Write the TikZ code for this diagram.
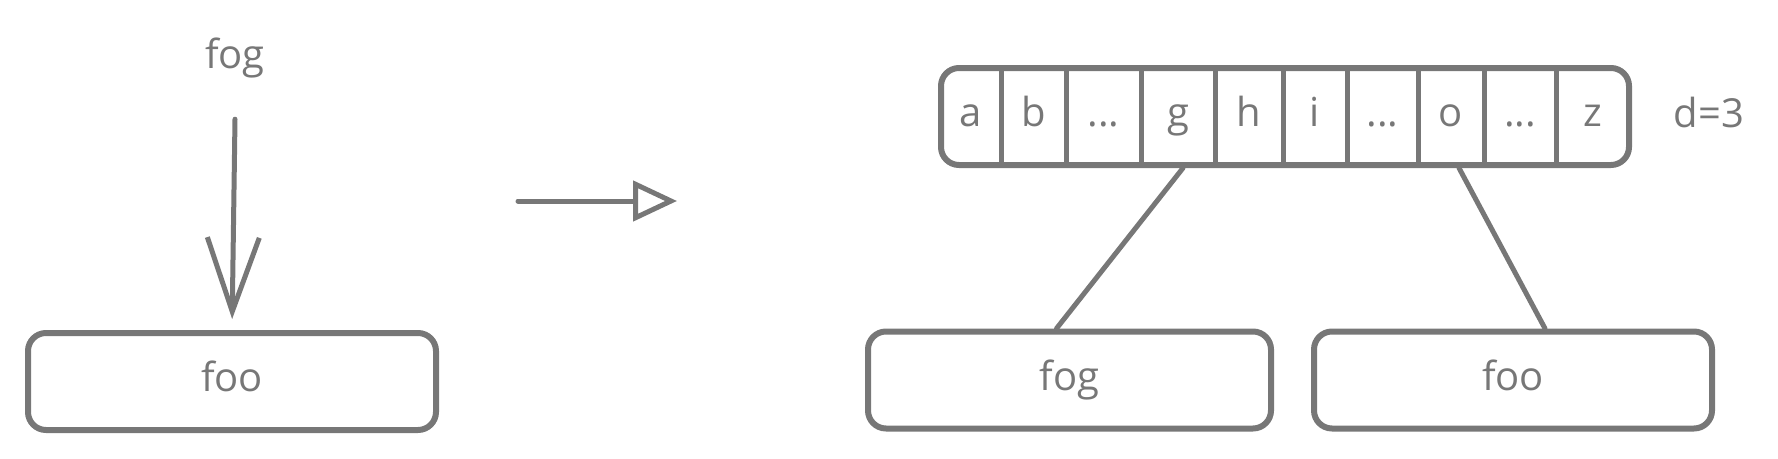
\documentclass[tikz,border=0pt]{standalone}
\usepackage{fontspec}
\setmainfont{Open Sans}
\usetikzlibrary{arrows.meta,calc}
\definecolor{ink}{HTML}{777777}
\begin{document}
\begin{tikzpicture}[x=1pt,y=-1pt,
  txt/.style={text=ink, font=\fontsize{40}{46}\selectfont, text height=29pt, text depth=9pt, inner sep=0pt},
  box/.style={draw=ink, line width=6pt, rounded corners=18pt, minimum height=97pt, inner sep=0pt, txt},
  cell/.style={minimum height=97pt, inner sep=0pt, outer sep=0pt, txt},
  con/.style={draw=ink, line width=5pt, line cap=round}]
\useasboundingbox (0,0) rectangle (1778,458);
% left part
\node[txt] (fogtop) at (235,58) {fog};
\node[box, minimum width=408pt] (foo1) at (232,381.5) {foo};
\draw[con, shorten >=11pt, -{Straight Barb[length=74pt,width=52pt]}] ($(fogtop.south)+(0,42)$) -- (foo1.north);
% middle arrow
\coordinate (m1) at (518,201);
\coordinate (m2) at (677,201);
\draw[con, -{Triangle[open,length=44pt,width=40pt,fill=white]}] (m1) -- (m2);
% array
\node[box, minimum width=688pt] (arr) at (1285,116.5) {};
\node[cell, minimum width=60pt] (ca) at (971,116.5) {a};
\node[cell, minimum width=65pt] (cb) at (1033.5,116.5) {b};
\node[cell, minimum width=75pt] (cd1) at (1103.5,116.5) {...};
\node[cell, minimum width=74pt] (cg) at (1178,116.5) {g};
\node[cell, minimum width=68pt] (ch) at (1249,116.5) {h};
\node[cell, minimum width=64pt] (ci) at (1315,116.5) {i};
\node[cell, minimum width=71pt] (cd2) at (1382.5,116.5) {...};
\node[cell, minimum width=66pt] (co) at (1451,116.5) {o};
\node[cell, minimum width=72pt] (cd3) at (1520,116.5) {...};
\node[cell, minimum width=73pt] (cz) at (1592.5,116.5) {z};
\foreach \c in {ca,cb,cd1,cg,ch,ci,cd2,co,cd3}
  \draw[con, line cap=butt] (\c.north east) -- (\c.south east);
\node[txt] (dval) at (1709,117) {d=3};
% children
\node[box, minimum width=403pt] (bl) at (1069.5,380) {fog};
\node[box, minimum width=398pt] (br) at (1513,380) {foo};
\draw[con] ($(cg.south)+(5,3)$) -- ($(bl.north)+(-13,0)$);
\draw[con] ($(co.south)+(8,3)$) -- ($(br.north)+(32,0)$);
\end{tikzpicture}
\end{document}
